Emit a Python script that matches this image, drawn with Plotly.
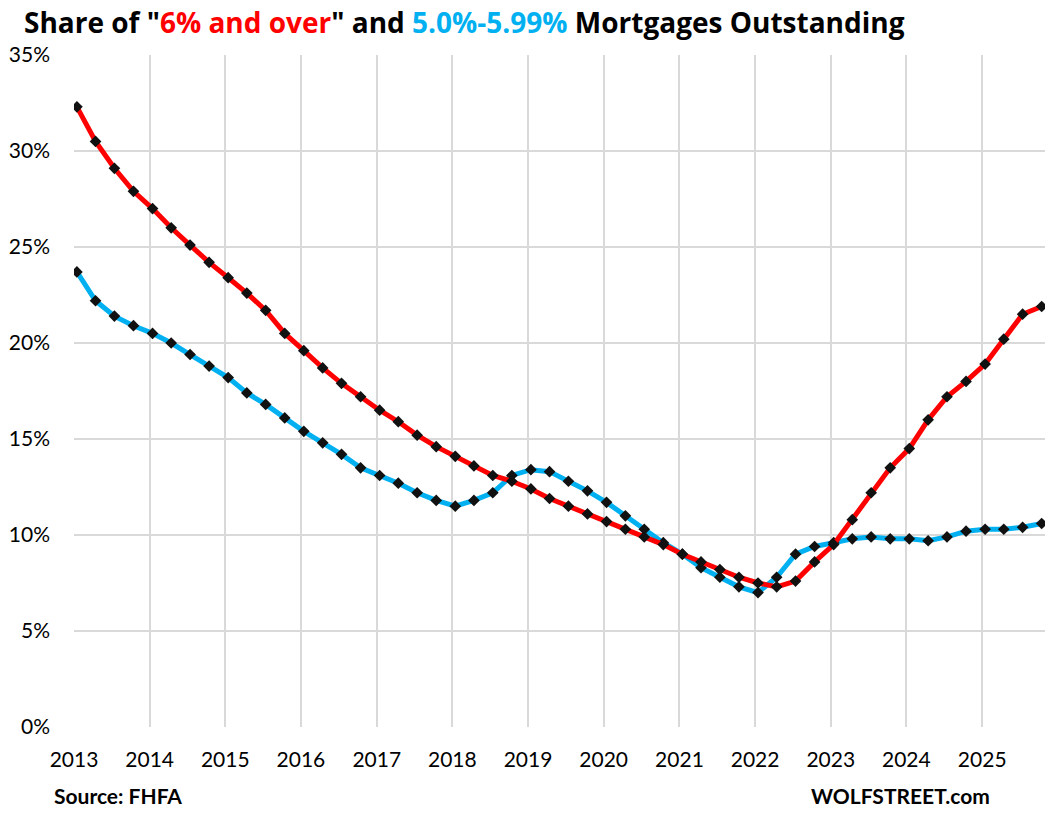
import plotly.graph_objects as go

# Quarterly observations, 2013 Q1 .. 2025 Q4
years = list(range(2013, 2026))
quarter_months = ["01", "04", "07", "10"]
dates = [f"{y}-{m}-15" for y in years for m in quarter_months]

share_6_and_over = [
    32.3, 30.5, 29.1, 27.9, 27.0, 26.0, 25.1, 24.2, 23.4, 22.6, 21.7, 20.5,
    19.6, 18.7, 17.9, 17.2, 16.5, 15.9, 15.2, 14.6, 14.1, 13.6, 13.1, 12.8,
    12.4, 11.9, 11.5, 11.1, 10.7, 10.3, 9.9, 9.5, 9.0, 8.6, 8.2, 7.8,
    7.5, 7.3, 7.6, 8.6, 9.5, 10.8, 12.2, 13.5, 14.5, 16.0, 17.2, 18.0,
    18.9, 20.2, 21.5, 21.9,
]
share_5_to_599 = [
    23.7, 22.2, 21.4, 20.9, 20.5, 20.0, 19.4, 18.8, 18.2, 17.4, 16.8, 16.1,
    15.4, 14.8, 14.2, 13.5, 13.1, 12.7, 12.2, 11.8, 11.5, 11.8, 12.2, 13.1,
    13.4, 13.3, 12.8, 12.3, 11.7, 11.0, 10.3, 9.6, 9.0, 8.3, 7.8, 7.3,
    7.0, 7.8, 9.0, 9.4, 9.6, 9.8, 9.9, 9.8, 9.8, 9.7, 9.9, 10.2,
    10.3, 10.3, 10.4, 10.6,
]

year_ticks = [f"{y}-01-01" for y in years]
year_labels = [str(y) for y in years]
y_ticks = [0, 5, 10, 15, 20, 25, 30, 35]
y_labels = [f"{v}%" for v in y_ticks]

RED = "#ff0000"
BLUE = "#00b0f0"
TICK_FONT = "Lato, Roboto, sans-serif"

# page body adds an 8px margin, so the figure is sized/positioned to compensate
W, H = 1052, 808
L, R, T, B = 66, 15, 47, 89
plot_w = W - L - R
plot_h = H - T - B

fig = go.Figure()
fig.add_trace(go.Scatter(
    x=dates, y=share_5_to_599, mode="lines+markers", name="5.0%-5.99%",
    line=dict(color=BLUE, width=5),
    marker=dict(symbol="diamond", size=9, color="#111111"),
))
fig.add_trace(go.Scatter(
    x=dates, y=share_6_and_over, mode="lines+markers", name="6% and over",
    line=dict(color=RED, width=5),
    marker=dict(symbol="diamond", size=9, color="#111111"),
))

fig.update_layout(
    width=W, height=H,
    margin=dict(l=L, r=R, t=T, b=B, autoexpand=False),
    paper_bgcolor="white", plot_bgcolor="white",
    showlegend=False,
    title=dict(
        text=('Share of "<span style="color:#ff0000">6% and over</span>" and '
              '<span style="color:#00b0f0">5.0%-5.99%</span> Mortgages Outstanding'),
        x=16 / W, xanchor="left", xref="container",
        y=1 - 15 / H, yanchor="middle", yref="container",
        font=dict(family="Open Sans, sans-serif", size=28, color="black", weight="bold"),
    ),
    xaxis=dict(
        type="date", range=["2013-01-01", "2025-10-31"],
        tickvals=year_ticks, ticktext=year_labels,
        showgrid=True, gridcolor="#d9d9d9", gridwidth=2,
        zeroline=False, showline=False, ticks="",
        ticklabelstandoff=18, automargin=False,
        tickfont=dict(family=TICK_FONT, size=21, color="black"),
    ),
    yaxis=dict(
        range=[0, 35], tickvals=y_ticks, ticktext=y_labels,
        showgrid=True, gridcolor="#d9d9d9", gridwidth=2,
        zeroline=False, showline=False, ticks="",
        ticklabelstandoff=23, automargin=False,
        tickfont=dict(family=TICK_FONT, size=21, color="black"),
    ),
)
src_y = -(795 - 727) / plot_h
fig.add_annotation(text="<b>Source: FHFA</b>", xref="paper", yref="paper",
                   x=(52 - 74) / plot_w, y=src_y,
                   xanchor="left", yanchor="middle", showarrow=False,
                   font=dict(family=TICK_FONT, size=21, color="black"))
fig.add_annotation(text="<b>WOLFSTREET.com</b>", xref="paper", yref="paper",
                   x=(992 - 74) / plot_w, y=src_y,
                   xanchor="right", yanchor="middle", showarrow=False,
                   font=dict(family=TICK_FONT, size=21, color="black"))

fig.write_html("out.html")
